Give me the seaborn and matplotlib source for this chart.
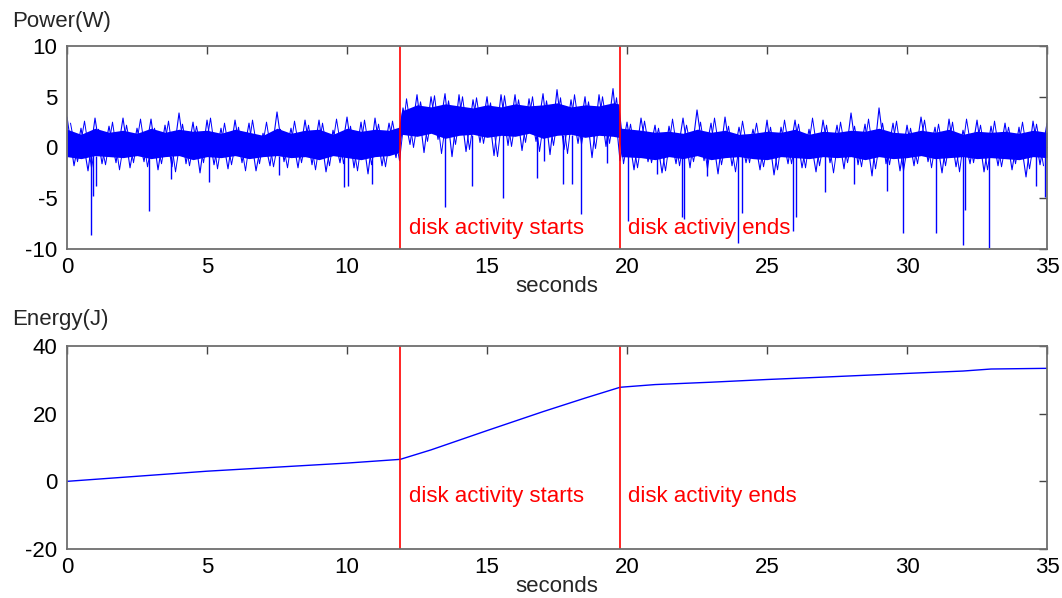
import numpy as np
import pandas as pd
import matplotlib
matplotlib.use("Agg")
import matplotlib.pyplot as plt
import seaborn as sns

# ---------------- data ----------------
# Power trace, first set of tips: high tips at t = 0, 0.5, ... 35
tip_hi_t = [i * 0.5 for i in range(71)]
tip_hi = [3.0, 1.9, 2.9, 2.1, 2.9, 1.9, 2.8, 2.2, 3.4, 2.5, 2.7, 1.9, 2.7, 2.4, 1.4, 3.5,
          1.9, 2.7, 2.7, 1.7, 3.0, 2.5, 2.9, 2.4,
          3.9, 5.2, 5.0, 5.3, 5.2, 4.7, 5.0, 5.2, 5.2, 4.8, 5.3, 5.7, 4.7, 5.0, 5.2, 5.8,
          2.5, 2.9, 2.2, 2.1, 2.9, 3.7, 2.4, 3.0, 2.0, 1.8, 2.7, 2.0, 2.7, 1.8, 2.7, 2.2,
          3.4, 2.3, 3.9, 2.4, 2.2, 3.0, 2.0, 2.8, 1.7, 2.7, 2.1, 2.4, 2.0, 2.6, 2.4]
# low tips at t = 0.25, 0.75, ... 34.75
tip_lo_t = [0.25 + i * 0.5 for i in range(70)]
tip_lo = [-1.8, -2.3, -1.6, -1.5, -2.0, -1.4, -2.2, -1.9, -1.6, -2.5, -1.7, -2.1, -1.5, -2.3,
          -1.8, -1.4, -2.0, -1.7, -2.4, -1.5, -2.0, -2.6, -1.8, -1.0,
          0.3, -0.5, 0.8, -0.9, -0.4, 0.5, -0.8, 0.2, -0.3, 0.6, -0.7, -0.2, 0.4, -1.0, 0.1, -1.3,
          -2.2, -1.4, -2.5, -1.6, -2.0, -1.3, -2.6, -1.8, -1.5, -2.2, -2.7, -1.6, -2.0, -2.4, -1.5,
          -2.1, -1.7, -2.8, -1.6, -2.3, -1.8, -1.4, -2.5, -1.9, -1.6, -2.4, -1.8, -2.2, -2.9, -1.7]
# second set of tips, in between: high at t = 0.125 + 0.5k, low at t = 0.375 + 0.5k
tip2_hi_t = [0.125 + i * 0.5 for i in range(70)]
tip2_hi = [2.4, 2.6, 1.8, 2.5, 2.2, 2.8, 1.9, 2.6, 2.3, 2.1, 2.9, 2.4, 2.0, 2.7, 2.5, 1.8,
           2.6, 2.2, 2.4, 2.8, 2.1, 2.7, 2.3, 2.6,
           4.8, 4.5, 5.1, 4.6, 5.0, 4.9, 4.4, 5.1, 4.7, 5.0, 4.6, 4.9, 5.2, 4.5, 5.0, 4.9,
           2.3, 2.6, 1.9, 2.8, 2.2, 2.5, 2.9, 2.1, 2.6, 2.4, 2.0, 2.7, 2.3, 2.9, 2.2, 2.5,
           2.1, 2.8, 2.4, 2.6, 1.9, 2.7, 2.3, 2.5, 2.8, 2.2, 2.6, 2.0, 2.5, 2.3]
tip2_lo_t = [0.375 + i * 0.5 for i in range(70)]
tip2_lo = [-1.4, -2.0, -1.7, -2.2, -1.5, -1.9, -1.6, -2.4, -1.8, -1.5, -2.1, -1.7, -2.3, -1.6,
           -1.9, -2.0, -1.5, -2.2, -1.8, -1.6, -2.3, -1.7, -1.9, -1.3,
           0.0, 0.6, -0.6, 0.3, -0.2, 0.4, -0.9, 0.1, 0.5, -0.4, 0.2, -0.6, 0.3, -0.1, 0.4,
           -1.6, -2.0, -1.5, -2.3, -1.8, -1.4, -2.1, -1.7, -2.4, -1.5, -1.9, -2.2, -1.6, -2.0,
           -1.8, -2.5, -1.5, -1.9, -2.1, -1.7, -2.3, -1.6, -2.0, -1.8, -2.4, -1.5, -2.2, -1.9,
           -1.6, -2.1, -1.8]
# deep downward spikes: time (s), start level (W), depth (W)
spike_t = [0.85, 0.94, 1.04, 2.94, 3.71, 5.07, 7.57, 9.9, 10.04, 10.9, 13.5, 14.45, 15.58,
           16.8, 17.05, 17.7, 18.05, 18.36, 19.3, 20.02, 21.06, 21.95, 22.02, 22.86, 23.98,
           24.1, 25.94, 26.04, 27.07, 28.1, 29.3, 29.85, 31.05, 31.99, 32.07, 32.94, 34.6, 34.93]
spike_top = [-0.8, -0.8, -0.8, -0.8, -0.8, -0.8, -0.8, -0.8, -0.8, -0.8, 1.2, 1.2, 1.2,
             1.2, 1.2, 1.2, 1.2, 1.2, 1.2, -0.8, -0.8, -0.8, -0.8, -0.8, -0.8,
             -0.8, -0.8, -0.8, -0.8, -0.8, -0.8, -0.8, -0.8, -0.8, -0.8, -0.8, -0.8, -0.8]
spike_v = [-8.6, -4.8, -3.8, -6.3, -3.1, -3.4, -2.7, -3.9, -3.8, -3.6, -5.9, -3.8, -5.0,
           -3.0, -1.3, -3.6, -3.6, -6.6, -1.5, -7.2, -2.6, -6.8, -7.0, -2.8, -9.4,
           -6.5, -8.2, -6.8, -4.4, -3.6, -4.3, -8.4, -8.4, -9.6, -6.2, -9.9, -3.8, -4.9]
# dense core of the power trace
core_t = ([i * 0.5 for i in range(24)] + [11.85, 11.95] + [12.5 + i * 0.5 for i in range(15)]
          + [19.7, 19.8] + [20.5 + i * 0.5 for i in range(30)])
core_hi = [1.8, 1.3, 1.9, 1.5, 1.7, 1.4, 1.9, 1.5, 1.8, 1.6, 1.7, 1.4, 1.8, 1.5, 1.2, 1.9,
           1.4, 1.7, 1.8, 1.3, 1.9, 1.6, 1.8, 1.7, 2.0,
           3.6, 4.2, 4.0, 4.3, 4.1, 3.9, 4.2, 4.0, 4.3, 4.1, 4.2, 4.4, 4.0, 4.2, 4.1, 4.4, 4.3,
           1.9, 1.7, 1.5, 1.6, 1.4, 1.8, 1.5, 1.7, 1.3, 1.4, 1.6, 1.5, 1.8, 1.3, 1.6, 1.5,
           1.7, 1.6, 1.9, 1.5, 1.4, 1.7, 1.5, 1.8, 1.3, 1.6, 1.5, 1.6, 1.4, 1.7, 1.5]
core_lo = [-0.9, -1.1, -0.8, -0.9, -1.0, -0.8, -1.1, -0.9, -0.8, -1.2, -0.9, -1.0, -0.8, -1.1,
           -0.9, -0.8, -1.0, -0.9, -1.2, -0.8, -1.0, -1.2, -0.9, -0.8, -0.5,
           1.3, 1.1, 1.4, 0.9, 1.2, 1.3, 1.0, 1.2, 1.1, 1.4, 0.9, 1.2, 1.3, 1.0, 1.2, 1.1, 1.0,
           -0.9, -1.0, -1.2, -0.9, -1.1, -0.8, -1.2, -1.0, -0.9, -1.1, -1.2, -0.9, -1.0, -1.1,
           -0.9, -1.0, -0.9, -1.2, -0.9, -1.1, -1.0, -0.8, -1.1, -1.0, -0.9, -1.1, -1.0, -1.1,
           -1.2, -0.9, -1.0]

# Energy trace
energy_t = [0, 2.5, 5, 7.5, 10, 11.9, 13, 15, 17, 18.5, 19.75, 21, 23, 25, 27, 30, 32, 33, 35]
energy_j = [0, 1.5, 3.0, 4.2, 5.4, 6.5, 9.3, 15.0, 20.6, 24.6, 27.8, 28.6, 29.3, 30.1, 30.8,
            31.9, 32.6, 33.2, 33.4]

events_t = [11.9, 19.75]
top_labels = ["disk activity starts", "disk activiy ends"]
bottom_labels = ["disk activity starts", "disk activity ends"]
x_ticks = [0, 5, 10, 15, 20, 25, 30, 35]
power_ticks = [-10, -5, 0, 5, 10]
energy_ticks = [-20, 0, 20, 40]

# ---------------- style ----------------
sns.set_theme(style="white")
plt.rcParams.update({
    "font.family": ["Liberation Sans", "DejaVu Sans"],
    "font.size": 16,
    "axes.unicode_minus": False,
    "axes.edgecolor": "#6e6e6e",
    "axes.linewidth": 1.3,
    "xtick.direction": "in",
    "ytick.direction": "in",
    "xtick.top": True,
    "ytick.right": True,
    "xtick.major.size": 6,
    "ytick.major.size": 6,
    "xtick.major.width": 1.0,
    "ytick.major.width": 1.0,
    "xtick.color": "#444444",
    "ytick.color": "#444444",
    "xtick.labelcolor": "black",
    "ytick.labelcolor": "black",
    "xtick.labelsize": 16,
    "ytick.labelsize": 16,
    "xtick.major.pad": 6,
    "ytick.major.pad": 7,
})

BLUE = "#0000ff"
RED = "#ff0000"

fig = plt.figure(figsize=(10.62, 5.98), dpi=100)
ax1 = fig.add_axes([0.0631, 0.5836, 0.9228, 0.3395])
ax2 = fig.add_axes([0.0631, 0.0819, 0.9228, 0.3395])

# Power: dense core as filled band, two zigzags through the tips, thin spikes
core = pd.DataFrame({"t": core_t, "hi": core_hi, "lo": core_lo})
ax1.fill_between(core["t"], core["lo"], core["hi"], color=BLUE, linewidth=0)
pts = pd.DataFrame({"t": tip_hi_t + tip_lo_t, "p": tip_hi + tip_lo}).sort_values("t")
pts2 = pd.DataFrame({"t": tip2_hi_t + tip2_lo_t, "p": tip2_hi + tip2_lo}).sort_values("t")
sns.lineplot(data=pts2, x="t", y="p", ax=ax1, color=BLUE, linewidth=0.7,
             estimator=None, sort=False)
sns.lineplot(data=pts, x="t", y="p", ax=ax1, color=BLUE, linewidth=0.8,
             estimator=None, sort=False)
ax1.vlines(spike_t, spike_top, spike_v, color=BLUE, linewidth=1.0)

# Energy
edf = pd.DataFrame({"t": energy_t, "e": energy_j})
sns.lineplot(data=edf, x="t", y="e", ax=ax2, color=BLUE, linewidth=1.0, estimator=None)

for ax, ylim, yt, labels, ytxt in [
    (ax1, (-10, 10), power_ticks, top_labels, -8.0),
    (ax2, (-20, 40), energy_ticks, bottom_labels, -4.6),
]:
    for t in events_t:
        ax.axvline(t, color=RED, linewidth=1.2)
    for t, lab in zip(events_t, labels):
        ax.text(t + 0.3, ytxt, lab, color=RED, fontsize=16, va="center", ha="left")
    ax.set_xlim(0, 35)
    ax.set_ylim(*ylim)
    ax.set_xticks(x_ticks)
    ax.set_yticks(yt)
    ax.set_xlabel("seconds", fontsize=16, labelpad=-2)
    ax.set_ylabel("")
    for sp in ax.spines.values():
        sp.set_visible(True)

fig.text(12 / 1062, 1 - 22 / 598, "Power(W)", fontsize=16, va="center", ha="left")
fig.text(12 / 1062, 1 - 320 / 598, "Energy(J)", fontsize=16, va="center", ha="left")

fig.savefig("out.png", dpi=100, facecolor="white")
